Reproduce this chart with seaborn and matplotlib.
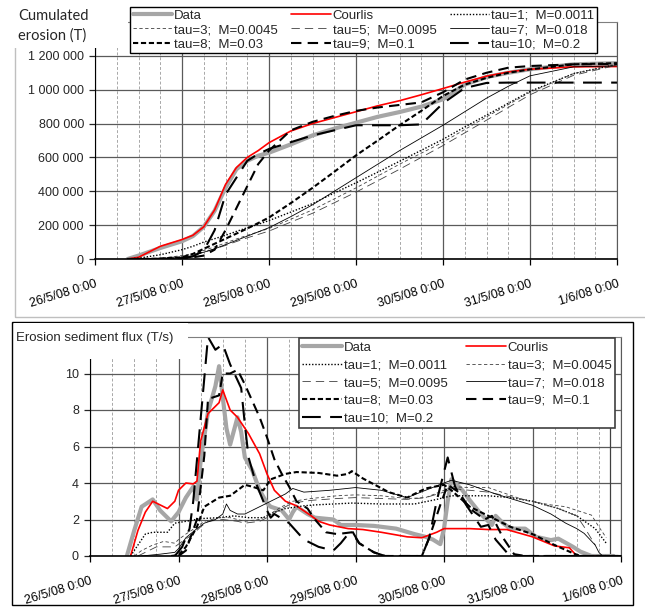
import numpy as np
import pandas as pd
import matplotlib
matplotlib.use("Agg")
import matplotlib.pyplot as plt
import matplotlib.dates as mdates
from matplotlib.ticker import FuncFormatter, FixedLocator
from matplotlib.patches import Rectangle
import seaborn as sns

# Time origin: 26/5/08 0:00, all times below are hours from it
start = pd.Timestamp("2008-05-26")
end = pd.Timestamp("2008-06-01")

labels = ["Data", "Courlis", "tau=1;  M=0.0011", "tau=3;  M=0.0045",
          "tau=5;  M=0.0095", "tau=7;  M=0.018", "tau=8;  M=0.03",
          "tau=9;  M=0.1", "tau=10;  M=0.2"]

# ---- Top panel: cumulated erosion (thousand tonnes) ----
cum_hours = [9, 12, 18, 24, 27, 30, 33, 36, 39, 42, 45, 48, 54, 60, 66, 72,
             78, 84, 90, 96, 102, 108, 114, 120, 132, 144]
cum_data = [0, 20, 65, 105, 135, 190, 285, 420, 530, 580, 610, 628, 677, 730, 770, 805,
            840, 868, 900, 944, 1030, 1075, 1100, 1121, 1150, 1157]
cum_courlis = [0, 10, 75, 115, 140, 190, 290, 440, 540, 600, 640, 687, 756, 800, 835, 870,
               905, 935, 970, 1007, 1045, 1080, 1105, 1121, 1135, 1137]
cum_tau1 = [0, 5, 25, 55, 75, 100, 120, 140, 163, 185, 205, 227, 277, 327, 390, 450,
            513, 577, 642, 707, 780, 850, 920, 990, 1095, 1150]
cum_tau3 = [0, 0, 5, 20, 32, 50, 72, 95, 118, 140, 160, 180, 235, 290, 355, 420,
            490, 560, 625, 690, 765, 840, 912, 985, 1095, 1150]
cum_tau5 = [0, 0, 5, 15, 26, 40, 60, 80, 103, 125, 145, 165, 218, 270, 332, 395,
            462, 530, 600, 670, 745, 820, 895, 970, 1085, 1145]
cum_tau7 = [0, 0, 2, 8, 20, 40, 60, 85, 110, 135, 160, 185, 250, 320, 400, 480,
            560, 640, 715, 790, 870, 950, 1020, 1082, 1135, 1141]
cum_tau8 = [0, 0, 2, 10, 30, 60, 90, 120, 150, 180, 212, 245, 330, 420, 515, 612,
            700, 790, 875, 963, 1030, 1070, 1100, 1120, 1150, 1157]
cum_tau9 = [0, 0, 0, 5, 10, 20, 55, 170, 300, 430, 560, 640, 760, 810, 845, 875,
            895, 910, 925, 985, 1060, 1100, 1130, 1140, 1150, 1152]
cum_tau10 = [0, 0, 0, 3, 15, 50, 170, 380, 480, 580, 620, 650, 690, 730, 760, 790,
             790, 790, 795, 920, 1010, 1040, 1042, 1042, 1042, 1042]
cum_ticks = [0, 200_000, 400_000, 600_000, 800_000, 1_000_000, 1_200_000]

# ---- Bottom panel: erosion sediment flux (T/s), each series on its own hours ----
flux_data_h = [10, 12, 14, 17, 19, 22, 24, 26, 28, 29, 30, 32, 34, 35, 36, 37, 38, 40, 41, 42,
               44, 46, 48, 49, 52, 54, 55, 56, 59, 61, 66, 68, 72, 77, 83, 88, 91, 93, 95, 96,
               97, 98, 101, 103, 106, 109, 110, 112, 114, 118, 121, 125, 127, 131, 133, 136, 142]
flux_data = [0, 1.4, 2.7, 3.1, 2.5, 1.9, 2.4, 3.2, 3.8, 3.1, 5.2, 7.9, 9.3, 10.4, 8.7, 7.0, 6.1, 7.6, 6.8, 5.4,
             4.7, 3.6, 2.9, 2.7, 2.5, 2.0, 2.4, 2.7, 2.3, 2.1, 2.0, 1.7, 1.7, 1.65, 1.5, 1.2, 1.05, 0.9, 0.65, 1.5,
             3.0, 4.2, 3.6, 3.05, 2.3, 1.7, 2.2, 1.8, 1.5, 1.5, 1.05, 0.87, 0.95, 0.5, 0.24, 0, 0]
flux_courlis_h = [11, 13, 15, 17, 19, 21, 23, 24, 26, 28, 29, 30, 32, 35, 36, 38, 40, 43, 46, 48,
                  50, 53, 56, 60, 62, 65, 70, 74, 79, 86, 90, 94, 96, 103, 108, 113, 120, 126, 130, 132, 144]
flux_courlis = [0, 1.4, 2.4, 3.0, 2.8, 2.6, 3.0, 3.6, 4.0, 3.95, 4.1, 6.3, 7.8, 8.4, 9.1, 8.0, 7.6, 6.7, 5.6, 4.5,
                3.6, 3.0, 2.75, 2.2, 1.9, 1.7, 1.5, 1.45, 1.3, 1.05, 1.0, 1.3, 1.5, 1.5, 1.45, 1.45, 1.05, 0.55, 0.45, 0, 0]
flux_tau1_h = [11, 13, 15, 17, 21, 23, 26, 30, 35, 39, 43, 47, 50, 53, 58, 61, 71, 79, 88, 94,
               98, 108, 114, 120, 127, 132, 137, 140]
flux_tau1 = [0, 0.6, 1.2, 1.3, 1.3, 1.8, 1.9, 2.05, 2.1, 2.2, 2.1, 2.1, 2.4, 2.6, 2.75, 2.8, 2.9, 2.85, 2.85, 3.1,
             3.3, 3.3, 3.2, 3.0, 2.6, 2.2, 1.5, 0.7]
flux_tau3_h = [12, 14, 17, 20, 23, 24, 26, 29, 31, 35, 38, 42, 46, 48, 52, 55, 60, 67, 72, 79,
               86, 91, 96, 98, 103, 108, 118, 125, 129, 132, 136, 138, 140]
flux_tau3 = [0, 0.3, 0.6, 0.8, 0.7, 0.9, 1.2, 1.6, 1.9, 2.1, 2.1, 1.9, 2.0, 2.2, 2.7, 3.0, 3.15, 3.3, 3.35, 3.3,
             3.15, 3.2, 3.6, 3.8, 3.75, 3.75, 3.05, 2.8, 2.7, 2.5, 2.24, 1.6, 1.0]
flux_tau5_h = [13, 16, 18, 23, 25, 28, 30, 32, 36, 40, 42, 46, 48, 52, 55, 60, 67, 72, 79, 86,
               91, 96, 98, 103, 108, 115, 120, 127, 132, 134, 137]
flux_tau5 = [0, 0.3, 0.5, 0.5, 0.8, 1.2, 1.6, 1.9, 2.0, 1.9, 1.8, 1.9, 2.1, 2.6, 2.9, 3.05, 3.15, 3.2, 3.15, 3.1,
             3.2, 3.5, 3.7, 3.6, 3.5, 3.2, 3.0, 2.6, 2.2, 1.6, 0.6]
flux_tau7_h = [14, 19, 23, 24, 26, 29, 31, 34, 36, 37, 38, 40, 42, 44, 48, 51, 53, 55, 58, 65,
               72, 79, 86, 91, 96, 98, 103, 110, 120, 125, 129, 132, 134, 137, 138, 139]
flux_tau7 = [0, 0.1, 0.2, 0.4, 1.0, 1.5, 1.8, 2.0, 2.3, 2.85, 2.5, 2.3, 2.3, 2.5, 2.9, 3.2, 3.4, 3.7, 3.5, 3.6,
             3.75, 3.6, 3.2, 3.6, 4.0, 4.15, 3.9, 3.4, 2.78, 2.3, 1.8, 1.5, 1.24, 0.6, 0.2, 0]
flux_tau8_h = [22, 24, 26, 29, 31, 35, 38, 42, 44, 47, 49, 53, 56, 62, 67, 70, 71, 74, 81, 86,
               91, 96, 98, 103, 108, 114, 120, 126, 131, 133, 144]
flux_tau8 = [0, 0.05, 0.5, 1.6, 2.7, 3.2, 3.3, 3.9, 3.8, 3.6, 4.2, 4.5, 4.6, 4.55, 4.4, 4.5, 4.65, 4.25, 3.5, 3.2,
             3.7, 3.9, 3.6, 2.7, 2.2, 1.6, 1.2, 0.6, 0.15, 0, 0]
flux_tau9_h = [24, 26, 29, 31, 32, 35, 36, 38, 40, 42, 46, 48, 50, 52, 54, 56, 59, 61, 64, 67,
               71, 73, 77, 80, 90, 92, 95, 97, 100, 103, 107, 109, 112, 115, 118, 144]
flux_tau9 = [0, 0.3, 2.0, 5.5, 8.6, 8.8, 10.0, 10.0, 10.2, 9.4, 7.6, 6.5, 5.3, 4.5, 3.8, 3.0, 2.6, 2.0, 1.3, 1.2,
             1.3, 0.7, 0.2, 0, 0, 1.0, 2.8, 3.9, 3.5, 2.6, 2.0, 2.2, 1.0, 0.1, 0, 0]
flux_tau10_h = [23, 25, 27, 28, 30, 32, 34, 36, 38, 41, 42, 43, 45, 48, 49, 50, 54, 58, 62, 66,
                68, 70, 71, 73, 77, 80, 90, 92, 94, 97, 99, 102, 106, 108, 110, 113, 116, 144]
flux_tau10 = [0, 0.5, 1.5, 3.0, 7.5, 12.0, 11.3, 11.6, 10.5, 9.2, 7.2, 5.4, 4.0, 2.5, 2.1, 2.3, 1.8, 0.9, 0.5, 0.3,
              0.7, 1.2, 1.4, 0.7, 0.2, 0, 0, 1.0, 3.0, 5.4, 3.8, 2.8, 1.6, 1.7, 0.9, 0.2, 0, 0]
flux_ticks = [0, 2, 4, 6, 8, 10]
flux_marker_h = 141  # vertical line in the flux chart

cum_series = [cum_data, cum_courlis, cum_tau1, cum_tau3, cum_tau5,
              cum_tau7, cum_tau8, cum_tau9, cum_tau10]
flux_series = [(flux_data_h, flux_data), (flux_courlis_h, flux_courlis),
               (flux_tau1_h, flux_tau1), (flux_tau3_h, flux_tau3),
               (flux_tau5_h, flux_tau5), (flux_tau7_h, flux_tau7),
               (flux_tau8_h, flux_tau8), (flux_tau9_h, flux_tau9),
               (flux_tau10_h, flux_tau10)]

styles = [
    dict(color="#a6a6a6", lw=3.0, ls="-"),
    dict(color="#ff0000", lw=1.2, ls="-"),
    dict(color="black", lw=1.0, ls=(0, (1, 1.3))),
    dict(color="#404040", lw=0.6, ls=(0, (4, 3))),
    dict(color="#404040", lw=0.6, ls=(0, (10, 6))),
    dict(color="black", lw=0.6, ls="-"),
    dict(color="black", lw=1.5, ls=(0, (2.5, 1.3))),
    dict(color="black", lw=1.5, ls=(0, (5, 3))),
    dict(color="black", lw=1.5, ls=(0, (9, 4.5))),
]

sns.set_style("white")
plt.rcParams["font.family"] = ["Liberation Sans", "DejaVu Sans"]

W, H = 645, 610
fig = plt.figure(figsize=(W / 100, H / 100), dpi=100)


def box(x0, y0, x1, y1):
    # pixel box (from top-left) -> figure fraction rect
    return [x0 / W, 1 - y1 / H, (x1 - x0) / W, (y1 - y0) / H]


def hours_to_time(h):
    return start + pd.to_timedelta(np.asarray(h, dtype=float), unit="h")


def date_label(v, pos):
    d = mdates.num2date(v)
    return f"{d.day}/{d.month}/08 0:00"


def style_axes(ax, ymax, yticks):
    ax.set_xlim(start, end)
    ax.set_ylim(0, ymax)
    ax.xaxis.set_major_locator(mdates.DayLocator())
    ax.xaxis.set_minor_locator(mdates.HourLocator(byhour=[6, 12, 18]))
    ax.xaxis.set_major_formatter(FuncFormatter(date_label))
    ax.yaxis.set_major_locator(FixedLocator(yticks))
    ax.set_axisbelow(True)
    ax.grid(which="major", axis="both", color="#5a5a5a", lw=0.9)
    ax.grid(which="minor", axis="x", color="#a8a8a8", lw=0.7, ls=(0, (3, 2)))
    ax.tick_params(axis="x", which="major", length=4, width=0.9, direction="out",
                   bottom=True, labelsize=9, pad=10, colors="black")
    ax.tick_params(axis="x", which="minor", length=0)
    ax.tick_params(axis="y", length=4, width=0.9, direction="out", left=True,
                   labelsize=9, pad=4)
    for lab in ax.get_xticklabels():
        lab.set_rotation(17)
        lab.set_ha("right")
        lab.set_va("top")
        lab.set_rotation_mode("anchor")
    ax.spines["left"].set_color("black")
    ax.spines["bottom"].set_color("black")
    ax.spines["bottom"].set_linewidth(1.2)
    ax.spines["top"].set_color("#7f7f7f")
    ax.spines["right"].set_color("#5a5a5a")
    ax.set_xlabel("")
    ax.set_ylabel("")


# ---- top chart ----
ax1 = fig.add_axes(box(95, 22, 617, 259))
t_cum = hours_to_time(cum_hours)
for name, vals, st in zip(labels, cum_series, styles):
    sns.lineplot(x=t_cum, y=np.asarray(vals) * 1000, ax=ax1, label=name, legend=False,
                 estimator=None, sort=False, color=st["color"], linewidth=st["lw"],
                 linestyle=st["ls"])
style_axes(ax1, 1_400_000, cum_ticks)
ax1.yaxis.set_major_formatter(FuncFormatter(lambda v, p: f"{int(round(v)):,}".replace(",", " ")))

# ---- bottom chart ----
ax2 = fig.add_axes(box(90, 337, 621, 556))
for name, (hh, vals), st in zip(labels, flux_series, styles):
    sns.lineplot(x=hours_to_time(hh), y=vals, ax=ax2, label=name, legend=False,
                 estimator=None, sort=False, color=st["color"], linewidth=st["lw"],
                 linestyle=st["ls"])
ax2.axvline(start + pd.Timedelta(hours=flux_marker_h), color="#404040", lw=0.9, zorder=1)
style_axes(ax2, 12, flux_ticks)
ax2.yaxis.set_major_formatter(FuncFormatter(lambda v, p: f"{int(round(v))}"))

# chart frames
fig.patches.append(Rectangle((15 / W, 1 - 317 / H), 700 / W, 330 / H, transform=fig.transFigure,
                             fill=False, ec="#bfbfbf", lw=1.0, zorder=1))
fig.patches.append(Rectangle((12 / W, 1 - 605 / H), 621 / W, 283 / H, transform=fig.transFigure,
                             fill=False, ec="black", lw=1.0, zorder=1))

# title blocks sit on top of the plot corner
fig.patches.append(Rectangle((8 / W, 1 - 48 / H), 120 / W, 60 / H, transform=fig.transFigure,
                             fc="white", ec="none", zorder=2))
fig.patches.append(Rectangle((13.5 / W, 1 - 359 / H), 174.5 / W, 36 / H, transform=fig.transFigure,
                             fc="white", ec="none", zorder=2))
fig.text(18 / W, 1 - 9 / H, "Cumulated\nerosion (T)", ha="left", va="top", fontsize=10.5,
         family=["Lato", "DejaVu Sans"], linespacing=1.45, zorder=3)
fig.text(16 / W, 1 - 338 / H, "Erosion sediment flux (T/s)", ha="left", va="center",
         fontsize=9.5, zorder=3)

# legends (row-wise order as in the original)
h1, l1 = ax1.get_legend_handles_labels()
order1 = [0, 3, 6, 1, 4, 7, 2, 5, 8]
leg1 = fig.legend([h1[i] for i in order1], [l1[i] for i in order1], ncol=3,
                  loc="upper left", bbox_to_anchor=(130 / W, 1 - 7 / H), borderaxespad=0,
                  frameon=True, fancybox=False, edgecolor="black", framealpha=1,
                  fontsize=9.5, handlelength=3.0, handletextpad=0.15, columnspacing=1.0,
                  labelspacing=0.15, borderpad=0.2)
leg1.get_frame().set_linewidth(1.0)

h2, l2 = ax2.get_legend_handles_labels()
order2 = [0, 2, 4, 6, 8, 1, 3, 5, 7]
leg2 = fig.legend([h2[i] for i in order2], [l2[i] for i in order2], ncol=2,
                  loc="upper left", bbox_to_anchor=(299 / W, 1 - 338 / H), borderaxespad=0,
                  frameon=True, fancybox=False, edgecolor="#404040", framealpha=1,
                  fontsize=9.5, handlelength=3.0, handletextpad=0.15, columnspacing=1.4,
                  labelspacing=0.42, borderpad=0.25)
leg2.get_frame().set_linewidth(1.2)

fig.savefig("out.png", dpi=100)
